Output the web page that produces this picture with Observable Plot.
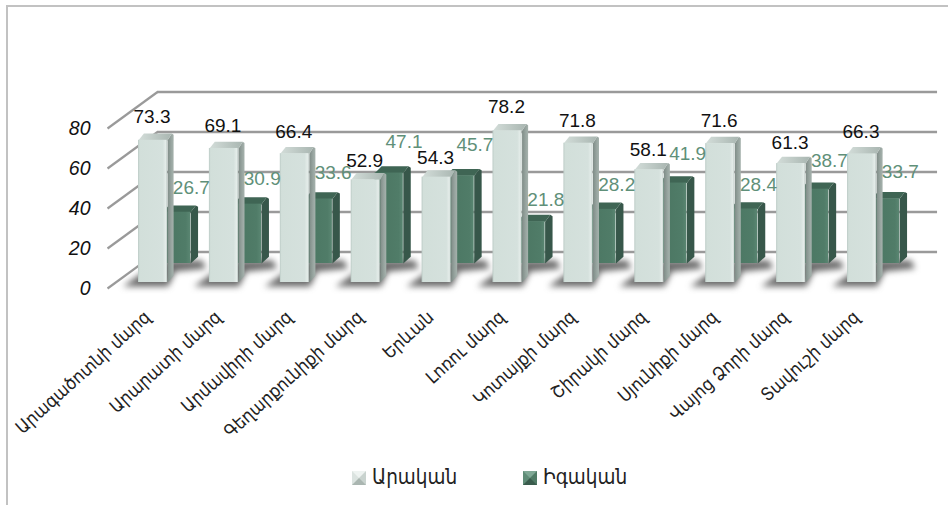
<!DOCTYPE html>
<html><head><meta charset="utf-8">
<script src="https://cdn.jsdelivr.net/npm/d3@7"></script>
<script src="https://cdn.jsdelivr.net/npm/@observablehq/plot@0.6"></script>
<style>
html,body{margin:0;padding:0;background:#fff;overflow:hidden}
#page{position:absolute;left:0;top:0;width:948px;height:505px;overflow:hidden}
#frame{position:absolute;left:6px;top:5px;right:0;bottom:0;border-left:2px solid #c2c2c2;border-top:2px solid #c2c2c2}
#chart{position:absolute;left:0;top:0}
#legend{position:absolute;left:0;top:463px;width:948px;height:28px;font:20.5px "DejaVu Sans Condensed","DejaVu Sans",sans-serif;color:#222}
#legend span{position:absolute;top:2px;white-space:nowrap}
#legend i{position:absolute;top:8px;width:0;height:0;border-style:solid;border-width:7px}
</style></head><body>
<div id="page"><div id="frame"></div><div id="chart"></div><div id="legend"></div></div>
<script>
const regions = ["Արագածոտնի մարզ","Արարատի մարզ","Արմավիրի մարզ","Գեղարքունիքի մարզ","Երևան","Լոռու մարզ","Կոտայքի մարզ","Շիրակի մարզ","Սյունիքի մարզ","Վայոց Ձորի մարզ","Տավուշի մարզ"];
const urban = [73.3,69.1,66.4,52.9,54.3,78.2,71.8,58.1,71.6,61.3,66.3];
const rural = [26.7,30.9,33.6,47.1,45.7,21.8,28.2,41.9,28.4,38.7,33.7];
const seriesNames = ["Արական","Իգական"];
const yTicks = [0,20,40,60,80];

// Projection of the 3D box, in scale units (1 x unit = one category, 1 y unit = one value point)
const frontX = -0.437, backX = 0.268, depthY = 18.25, endX = 11.27;
const row = [
  {values: urban, x0: 0, w: 0.41, sx: 0.085, sy: 3.4, base: 3, k: 0.97, front: "url(#lf)", side: "url(#ls)", cap: "url(#lc)"},
  {values: rural, x0: 0.335, w: 0.40, sx: 0.105, sy: 3.4, base: 12.5, k: 0.96, front: "url(#df)", side: "#37574a", cap: "#3f6554"}
];
const boxes = row.map(r => r.values.map((v, i) => ({
  i, v, x1: i + r.x0, x2: i + r.x0 + r.w, y1: r.base, y2: r.base + v * r.k, sx: r.sx, sy: r.sy
})));
const sidePoly = bs => bs.flatMap(b => [[b.x2,b.y1],[b.x2+b.sx,b.y1+b.sy],[b.x2+b.sx,b.y2+b.sy*.8],[b.x2+b.sx*.7,b.y2+b.sy],[b.x2,b.y2]].map(([x,y]) => ({x,y,id:b.i})));
const capPoly  = bs => bs.flatMap(b => [[b.x1,b.y2],[b.x1+b.sx*.9,b.y2+b.sy],[b.x2+b.sx*.7,b.y2+b.sy],[b.x2,b.y2]].map(([x,y]) => ({x,y,id:b.i})));
const shadowPoly = regions.flatMap((_, i) => [[i-.22,1],[i+.42,1],[i+.52,8.5],[i+.95,10],[i+.9,14],[i+.3,14]].map(([x,y]) => ({x,y,id:i})));

const gradients = () => {
  const defs = d3.create("svg:defs");
  const grad = (id, stops, vertical) => {
    const g = defs.append("linearGradient").attr("id", id);
    if (vertical) g.attr("x2", 0).attr("y2", 1);
    stops.forEach(([o,c]) => g.append("stop").attr("offset", o).attr("stop-color", c));
  };
  grad("lf", [[0,"#bccbc6"],[.06,"#d2dfda"],[.85,"#d5e1dd"],[.95,"#e4ece9"],[1,"#c0ccc8"]]);
  grad("ls", [[0,"#7f8c87"],[.6,"#98a5a0"],[1,"#a6b2ad"]]);
  grad("lc", [[0,"#d3ddd9"],[1,"#a9b6b1"]]);
  grad("df", [[0,"#4a7561"],[.85,"#507c68"],[1,"#5a8672"]]);
  return defs.node();
};

const frontMark = (bs, fill) => Plot.rect(bs, {x1:"x1", x2:"x2", y1:"y1", y2:"y2", fill});
const poly = (pts, fill) => Plot.line(pts, {x:"x", y:"y", z:"id", fill, stroke:"none"});

const plot = Plot.plot({
  width: 948, height: 460,
  marginLeft: 107, marginRight: 11, marginTop: 128, marginBottom: 172,
  style: {background:"transparent", overflow:"visible", fontFamily:'"Liberation Sans",sans-serif'},
  x: {type:"linear", domain:[0,10], range:[138,847]},
  y: {domain:[0,80], range:[288,128]},
  marks: [
    gradients,
    Plot.link(yTicks, {x1:frontX, x2:backX, y1:d=>d, y2:d=>d+depthY, stroke:"#9a9a9a", strokeWidth:2.2}),
    Plot.ruleY(yTicks, {x1:backX, x2:endX, y:d=>d+depthY, stroke:"#9a9a9a", strokeWidth:2.4}),
    Plot.line(shadowPoly, {x:"x", y:"y", z:"id", fill:"#444", stroke:"none", fillOpacity:.8, imageFilter:"blur(3px)"}),
    poly(sidePoly(boxes[1]), row[1].side),
    poly(capPoly(boxes[1]), row[1].cap),
    frontMark(boxes[1], row[1].front),
    poly(sidePoly(boxes[0]), row[0].side),
    poly(capPoly(boxes[0]), row[0].cap),
    frontMark(boxes[0], row[0].front),
    Plot.axisY({ticks:yTicks, tickSize:0, tickPadding:17, label:null, fontSize:19.5, fontStyle:"italic", fill:"#111"}),
    Plot.axisX({ticks:d3.range(regions.length), tickFormat:i=>regions[i], tickRotate:-42, tickSize:0, tickPadding:26, label:null, dx:9,
      fontSize:18, fontFamily:'"DejaVu Sans Condensed","DejaVu Sans",sans-serif', fill:"#222"}),
    Plot.text(urban, {x:(d,i)=>i+.19, y:d=>(2.13*d+15)/2, text:d=>d.toFixed(1), fontSize:19, fill:"#111"}),
    Plot.text(rural, {x:(d,i)=>i+.745, y:d=>(2.29*d+39)/2, text:d=>d.toFixed(1), fontSize:19, fill:"#5f9079"})
  ]
});
document.getElementById("chart").append(plot);

const legend = document.getElementById("legend");
[[352,372,"#eef3f1 #c9d3cf #aab6b1 #dbe3e0",seriesNames[0]],[523,543,"#7fa895 #4f7b66 #3a5c4d #5f8c77",seriesNames[1]]].forEach(([sx,tx,cols,name]) => {
  const sw = document.createElement("i"); sw.style.left = sx+"px"; sw.style.borderColor = cols; legend.append(sw);
  const t = document.createElement("span"); t.style.left = tx+"px"; t.textContent = name; legend.append(t);
});
</script></body></html>
